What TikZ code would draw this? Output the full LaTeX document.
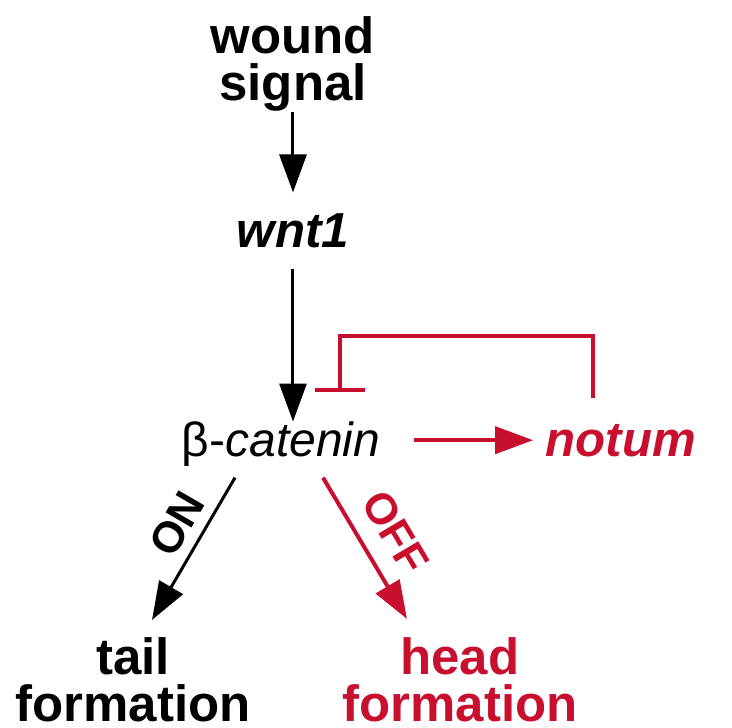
\documentclass[tikz,border=0pt]{standalone}
\usepackage{fontspec}
\setmainfont{Liberation Sans}
\usepackage{tikz}
\usetikzlibrary{arrows.meta, calc}
\definecolor{pwRed}{HTML}{C8102E}
\tikzset{
  pw-term/.style={
    inner sep=0pt, align=center,
    font=\fontsize{14.5}{13.6}\selectfont\bfseries
  },
  pw-gene/.style={
    inner sep=0pt, font=\fontsize{14}{14}\selectfont\bfseries\itshape
  },
  pw-act/.style={-{Triangle[length=0.38cm, width=0.27cm]}, line width=0.03cm, draw=black},
  pw-act-red/.style={pw-act, line width=0.04cm, draw=pwRed},
  pw-inh/.style={-{Bar[width=0.5cm]}, line width=0.04cm, draw=pwRed},
  pw-switch/.style={
    sloped, inner sep=0pt, font=\fontsize{12.4}{12.4}\selectfont\bfseries
  },
}
\begin{document}
\begin{tikzpicture}
  \useasboundingbox (0,0) rectangle (7.32,7.28);
  \node[pw-term, anchor=north]            (wound) at (2.93,7.125) {wound\\signal};
  \node[pw-gene, anchor=base]             (wnt)   at (2.93,4.80)  {wnt1};
  \node[inner sep=0pt, anchor=base,
        font=\fontsize{13.65}{13.65}\selectfont] (cat) at (2.81,2.71) {β-\textit{catenin}};
  \node[pw-gene, anchor=base, text=pwRed] (notum) at (6.21,2.71)  {notum};
  \node[pw-term, anchor=north]            (tail)  at (1.33,0.915) {tail\\formation};
  \node[pw-term, anchor=north, text=pwRed] (head) at (4.60,0.915) {head\\formation};

  \draw[pw-act, shorten >=0.21cm] (wound.south) -- (wound.south |- wnt.north);
  \draw[pw-act, shorten <=0.2cm] (wnt.south) -- (wnt.south |- cat.north);
  \draw[pw-act-red, shorten <=0.33cm, shorten >=0.12cm]
    ([yshift=0.075cm]cat.mid east) -- ([yshift=0.075cm]cat.mid east -| notum.west);
  \draw[pw-inh] ([xshift=-0.28cm, yshift=0.26cm]notum.north) -- ++(0,0.62)
    -| ([xshift=0.59cm, yshift=0.30cm]cat.north);
  \draw[pw-act] ([xshift=-0.46cm, yshift=-0.1cm]cat.south)
    -- node[pw-switch, above=0.1cm, pos=0.42] (on) {ON}
    ([xshift=0.19cm, yshift=0.165cm]tail.north);
  \draw[pw-act-red] ([xshift=0.42cm, yshift=-0.1cm]cat.south)
    -- node[pw-switch, above=0.17cm, pos=0.51, text=pwRed] (off) {OFF}
    ([xshift=-0.53cm, yshift=0.175cm]head.north);
\end{tikzpicture}
\end{document}
